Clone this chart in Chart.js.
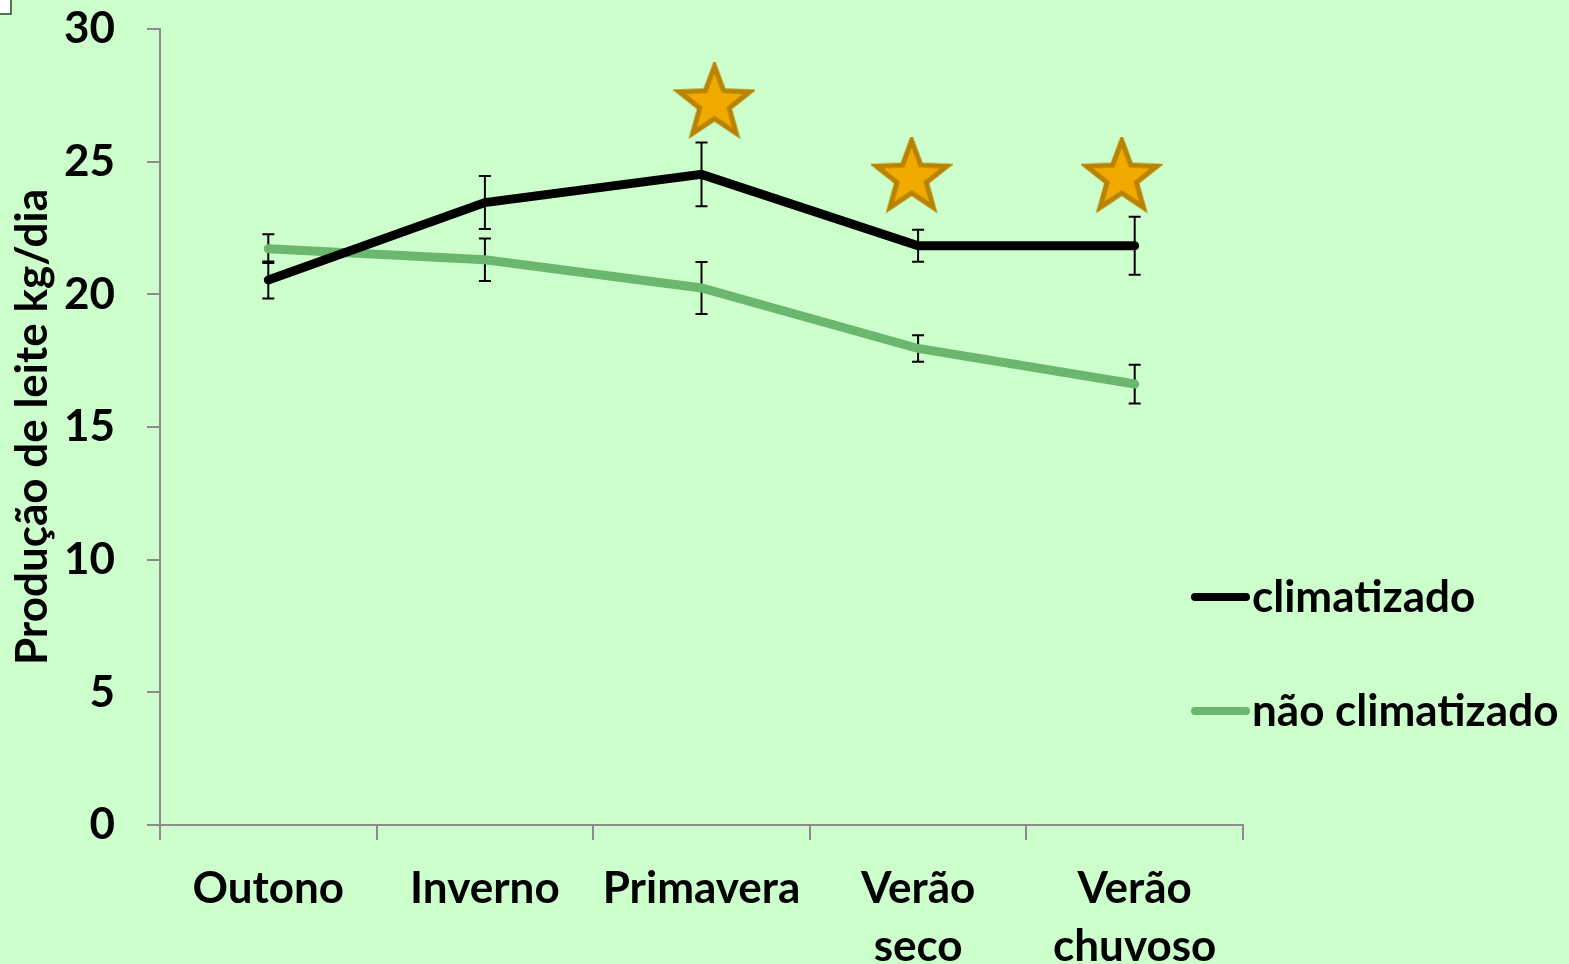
<!DOCTYPE html>
<html>
<head>
<meta charset="utf-8">
<script src="https://cdn.jsdelivr.net/npm/chart.js@4.4.1/dist/chart.umd.min.js"></script>
<style>
  html, body { margin: 0; padding: 0; background: #ccffcc; overflow: hidden; }
  #c { display: block; }
</style>
</head>
<body>
<canvas id="c" width="1569" height="964"></canvas>
<script>
// Estações do ano (eixo x)
const categories = ['Outono', 'Inverno', 'Primavera', ['Verão', 'seco'], ['Verão', 'chuvoso']];

// Produção média de leite (kg/dia)
const climatizado = [20.54, 23.46, 24.52, 21.83, 21.83];
const naoClimatizado = [21.72, 21.30, 20.24, 17.96, 16.62];

// Erro padrão de cada média
const erroClimatizado = [0.70, 1.00, 1.20, 0.60, 1.09];
const erroNaoClimatizado = [0.54, 0.80, 0.98, 0.50, 0.73];

// Marcadores de diferença significativa (posição na escala de categorias)
const estrelaX = [2.06, 2.97, 3.94];
const estrelaY = [27.2, 24.4, 24.4];

// Escala y
const yMin = 0, yMax = 30, yStep = 5;

const FONT = 'Lato, "Open Sans", sans-serif';
const FSIZE = 44;
const GRAY = '#8c8c8c';
const GREEN = '#6bb76e';

// Estrela de cinco pontas usada como pointStyle
function makeStar(R) {
  const pad = 4;
  const size = Math.ceil(2 * R + 2 * pad);
  const cv = document.createElement('canvas');
  cv.width = size; cv.height = size;
  const g = cv.getContext('2d');
  const cx = size / 2, cy = size / 2, r = R * 0.42;
  g.beginPath();
  for (let i = 0; i < 10; i++) {
    const rad = i % 2 === 0 ? R : r;
    const a = -Math.PI / 2 + i * Math.PI / 5;
    const px = cx + rad * Math.cos(a), py = cy + rad * Math.sin(a);
    if (i === 0) g.moveTo(px, py); else g.lineTo(px, py);
  }
  g.closePath();
  g.fillStyle = '#f0aa00';
  g.fill();
  g.lineWidth = 5;
  g.lineJoin = 'miter';
  g.strokeStyle = '#b98300';
  g.stroke();
  return cv;
}
const starImg = makeStar(37);

// Barras de erro, desenhadas por baixo das linhas
const errorBars = {
  id: 'errorBars',
  beforeDatasetsDraw(chart) {
    const { ctx, scales } = chart;
    const x = scales.x, y = scales.y;
    const sets = [[climatizado, erroClimatizado], [naoClimatizado, erroNaoClimatizado]];
    ctx.save();
    ctx.strokeStyle = '#000';
    ctx.lineWidth = 2;
    sets.forEach(([vals, errs]) => {
      vals.forEach((v, i) => {
        const px = x.getPixelForValue(i);
        const top = y.getPixelForValue(v + errs[i]);
        const bot = y.getPixelForValue(v - errs[i]);
        ctx.beginPath();
        ctx.moveTo(px, top); ctx.lineTo(px, bot);
        ctx.moveTo(px - 6, top); ctx.lineTo(px + 6, top);
        ctx.moveTo(px - 6, bot); ctx.lineTo(px + 6, bot);
        ctx.stroke();
      });
    });
    ctx.restore();
  }
};

// Legenda à direita da área do gráfico
const sideLegend = {
  id: 'sideLegend',
  afterDraw(chart) {
    const { ctx } = chart;
    const items = chart.data.datasets.filter(d => d.inLegend);
    ctx.save();
    ctx.font = 'bold ' + FSIZE + 'px ' + FONT;
    ctx.textBaseline = 'middle';
    ctx.fillStyle = '#000';
    items.forEach((d, i) => {
      const yy = 597 + i * 114;
      ctx.beginPath();
      ctx.lineCap = 'round';
      ctx.lineWidth = 8;
      ctx.strokeStyle = d.borderColor;
      ctx.moveTo(1195, yy); ctx.lineTo(1246, yy);
      ctx.stroke();
      ctx.fillText(d.label, 1252, yy + 1);
    });
    // pequena moldura no canto superior esquerdo
    ctx.fillStyle = '#ffffff';
    ctx.fillRect(0, 0, 11, 14);
    ctx.strokeStyle = '#1e4d1e';
    ctx.lineWidth = 1.5;
    ctx.strokeRect(-2, -2, 13, 16);
    ctx.restore();
  }
};

const bg = {
  id: 'bg',
  beforeDraw(chart) {
    const { ctx } = chart;
    ctx.save();
    ctx.fillStyle = '#ccffcc';
    ctx.fillRect(0, 0, chart.width, chart.height);
    ctx.restore();
  }
};

new Chart(document.getElementById('c'), {
  type: 'line',
  data: {
    labels: categories,
    datasets: [
      {
        label: 'climatizado',
        data: climatizado,
        borderColor: '#000000',
        backgroundColor: '#000000',
        borderWidth: 9,
        borderCapStyle: 'round',
        borderJoinStyle: 'miter',
        pointRadius: 0,
        tension: 0,
        inLegend: true,
        order: 1
      },
      {
        label: 'não climatizado',
        data: naoClimatizado,
        borderColor: GREEN,
        backgroundColor: GREEN,
        borderWidth: 9,
        borderCapStyle: 'round',
        borderJoinStyle: 'miter',
        pointRadius: 0,
        tension: 0,
        inLegend: true,
        order: 2
      },
      {
        type: 'scatter',
        label: 'significativo',
        data: estrelaX.map((xv, i) => ({ x: xv, y: estrelaY[i] })),
        xAxisID: 'xStar',
        pointStyle: starImg,
        pointRadius: 40,
        showLine: false,
        clip: false,
        order: 0
      }
    ]
  },
  options: {
    responsive: false,
    maintainAspectRatio: false,
    animation: false,
    devicePixelRatio: 1,
    layout: { autoPadding: false, padding: { left: 6, top: 29, right: 326, bottom: 0 } },
    plugins: {
      legend: { display: false },
      tooltip: { enabled: false }
    },
    scales: {
      x: {
        type: 'category',
        offset: true,
        grid: { drawOnChartArea: false, offset: true, color: GRAY, lineWidth: 2, tickLength: 15 },
        border: { color: GRAY, width: 2 },
        ticks: {
          color: '#000',
          font: { family: FONT, size: FSIZE, weight: 'bold', lineHeight: 1.32 },
          padding: 20,
          maxRotation: 0,
          autoSkip: false
        },
        afterFit(s) {
          s.height = 964 - 825;
          s.paddingLeft = 0; s.paddingRight = 0;
        }
      },
      xStar: {
        type: 'linear',
        display: false,
        min: -0.5,
        max: 4.5
      },
      y: {
        min: yMin,
        max: yMax,
        grid: { drawOnChartArea: false, color: GRAY, lineWidth: 2, tickLength: 13 },
        border: { color: GRAY, width: 2 },
        ticks: {
          stepSize: yStep,
          color: '#000',
          font: { family: FONT, size: FSIZE, weight: 'bold', lineHeight: 1.2 },
          padding: 32
        },
        title: {
          display: true,
          text: 'Produção de leite kg/dia',
          color: '#000',
          font: { family: FONT, size: FSIZE, weight: 'bold' },
          padding: 0
        },
        afterFit(s) {
          s.width = 160 - 6;
          s.paddingTop = 0; s.paddingBottom = 0;
        }
      }
    }
  },
  plugins: [bg, errorBars, sideLegend]
});
</script>
</body>
</html>
